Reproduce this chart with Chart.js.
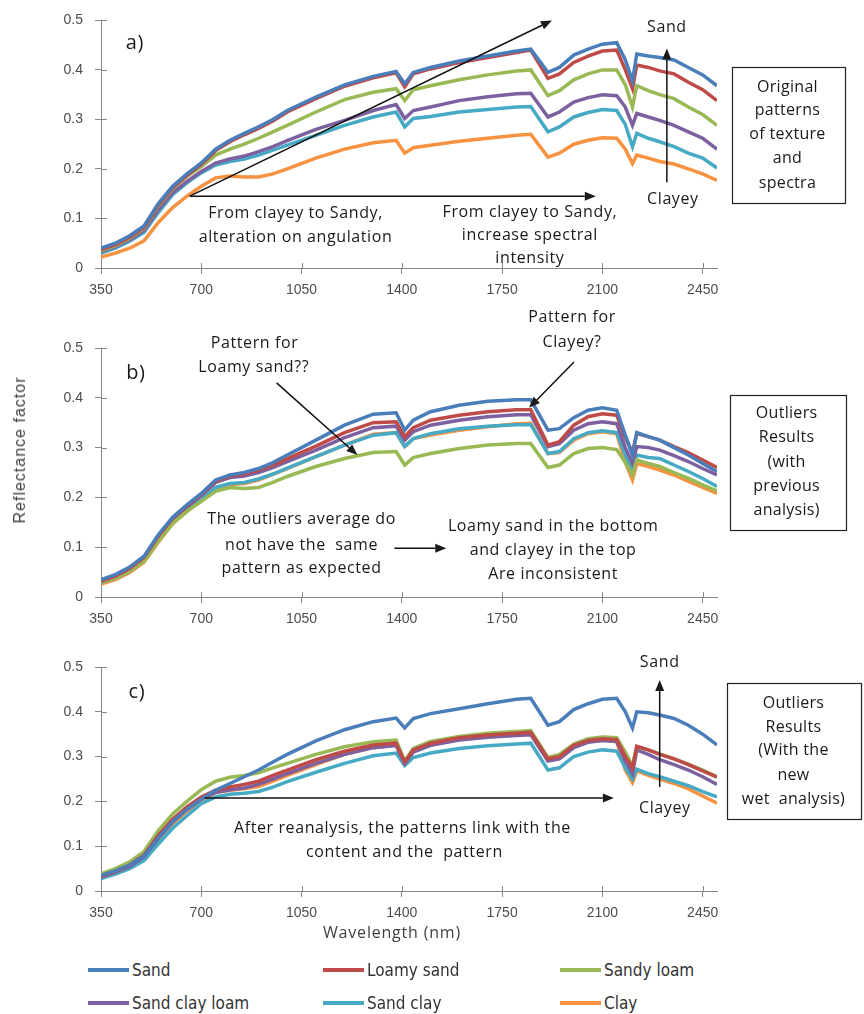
<!DOCTYPE html>
<html>
<head>
<meta charset="utf-8">
<script src="https://cdn.jsdelivr.net/npm/chart.js@4.4.1/dist/chart.umd.min.js"></script>
<style>
body { margin: 0; background: #fff; width: 864px; height: 1014px; position: relative; overflow: hidden; }
canvas { position: absolute; left: 0; }
#ylab { position: absolute; left: 20px; top: 450px; transform: translate(-50%, -50%) rotate(-90deg);
        font: 16px "Liberation Sans", Arial, sans-serif; letter-spacing: 1px; color: #404040; white-space: nowrap; }
#xlab { position: absolute; left: 392px; top: 932px; transform: translate(-50%, -50%);
        font: 16px "Open Sans", sans-serif; letter-spacing: 0.8px; color: #404040; white-space: nowrap; }
.leg { position: absolute; display: flex; align-items: center; transform: translateY(-50%);
       font: 17px "Liberation Sans Narrow", "DejaVu Sans Condensed", sans-serif; color: #333; white-space: nowrap; }
.leg i { display: inline-block; width: 41px; height: 4px; margin-right: 3px; }
</style>
</head>
<body>
<canvas id="ca" width="864" height="300" style="top:0"></canvas>
<canvas id="cb" width="864" height="330" style="top:300px"></canvas>
<canvas id="cc" width="864" height="300" style="top:630px"></canvas>
<div id="ylab">Reflectance factor</div>
<div id="xlab">Wavelength (nm)</div>
<div id="legend"></div>
<script>
// wavelengths (nm) sampled from the spectra
const wavelengths = [350, 400, 450, 500, 550, 600, 650, 700, 750, 800,
  850, 900, 950, 1000, 1100, 1200, 1300, 1380, 1410, 1440,
  1500, 1600, 1700, 1800, 1850, 1910, 1950, 2000, 2050, 2100,
  2150, 2180, 2205, 2220, 2260, 2300, 2350, 2400, 2450, 2500];
const xTicks = [350, 700, 1050, 1400, 1750, 2100, 2450];
const yTicks = [0, 0.1, 0.2, 0.3, 0.4, 0.5];
const seriesNames = ['Sand', 'Loamy sand', 'Sandy loam', 'Sand clay loam', 'Sand clay', 'Clay'];
const seriesColors = ['#4A7EBB', '#BE4B48', '#98B954', '#7D60A0', '#46AAC5', '#F69240'];

// a) original patterns
const sandA = [0.040,0.050,0.065,0.085,0.130,0.165,0.190,0.212,0.240,0.258, 0.272,0.285,0.300,0.318,0.345,0.370,0.387,0.397,0.372,0.395, 0.405,0.418,0.428,0.438,0.442,0.395,0.405,0.430,0.442,0.452, 0.455,0.420,0.378,0.432,0.428,0.425,0.420,0.405,0.390,0.368];
const loamySandA = [0.037,0.047,0.062,0.082,0.127,0.162,0.187,0.209,0.237,0.255, 0.269,0.282,0.297,0.315,0.342,0.367,0.384,0.394,0.366,0.392, 0.402,0.415,0.425,0.435,0.440,0.383,0.392,0.415,0.428,0.438, 0.440,0.400,0.362,0.410,0.405,0.398,0.392,0.375,0.360,0.338];
const sandyLoamA = [0.035,0.045,0.060,0.080,0.125,0.160,0.185,0.205,0.228,0.240, 0.250,0.262,0.275,0.288,0.315,0.340,0.355,0.362,0.338,0.360, 0.368,0.380,0.390,0.398,0.400,0.348,0.358,0.380,0.392,0.400, 0.400,0.370,0.325,0.368,0.358,0.350,0.342,0.325,0.310,0.288];
const sandClayLoamA = [0.033,0.043,0.057,0.076,0.118,0.152,0.175,0.195,0.212,0.220, 0.226,0.235,0.245,0.257,0.280,0.298,0.318,0.330,0.302,0.318, 0.325,0.338,0.346,0.352,0.353,0.305,0.315,0.335,0.344,0.350, 0.348,0.325,0.288,0.312,0.305,0.298,0.288,0.275,0.262,0.240];
const sandClayA = [0.030,0.040,0.054,0.072,0.112,0.148,0.172,0.192,0.208,0.215, 0.220,0.228,0.238,0.248,0.268,0.288,0.305,0.315,0.285,0.302, 0.306,0.315,0.320,0.325,0.326,0.275,0.285,0.305,0.314,0.320, 0.318,0.290,0.245,0.272,0.262,0.255,0.245,0.232,0.222,0.202];
const clayA = [0.022,0.030,0.040,0.055,0.092,0.122,0.145,0.165,0.182,0.186, 0.184,0.184,0.190,0.200,0.222,0.240,0.253,0.258,0.232,0.243, 0.248,0.256,0.262,0.268,0.270,0.224,0.232,0.250,0.258,0.263, 0.262,0.240,0.211,0.228,0.222,0.215,0.210,0.200,0.190,0.177];

// b) outliers, previous analysis
const sandB = [0.035,0.045,0.060,0.082,0.125,0.160,0.185,0.208,0.235,0.245, 0.250,0.258,0.270,0.285,0.315,0.345,0.367,0.370,0.335,0.355, 0.372,0.385,0.393,0.396,0.396,0.335,0.338,0.360,0.375,0.380, 0.375,0.325,0.285,0.330,0.322,0.315,0.300,0.285,0.268,0.252];
const loamySandB = [0.032,0.042,0.057,0.079,0.122,0.158,0.183,0.206,0.233,0.243, 0.247,0.255,0.265,0.278,0.303,0.330,0.350,0.352,0.322,0.340, 0.355,0.365,0.372,0.376,0.376,0.305,0.312,0.345,0.362,0.368, 0.365,0.320,0.290,0.328,0.322,0.315,0.302,0.290,0.275,0.260];
const sandyLoamB = [0.030,0.038,0.052,0.072,0.112,0.148,0.172,0.192,0.212,0.220, 0.218,0.220,0.230,0.242,0.262,0.278,0.290,0.292,0.265,0.280, 0.288,0.298,0.305,0.308,0.308,0.260,0.265,0.288,0.298,0.300, 0.296,0.270,0.245,0.275,0.268,0.262,0.250,0.238,0.225,0.213];
const sandClayLoamB = [0.031,0.041,0.055,0.077,0.120,0.156,0.181,0.204,0.230,0.240, 0.243,0.250,0.260,0.272,0.295,0.320,0.340,0.343,0.315,0.332, 0.345,0.355,0.362,0.366,0.366,0.302,0.308,0.335,0.348,0.352, 0.348,0.300,0.268,0.302,0.300,0.295,0.284,0.272,0.258,0.245];
const sandClayB = [0.029,0.038,0.052,0.073,0.114,0.150,0.175,0.196,0.220,0.228, 0.230,0.237,0.247,0.259,0.282,0.305,0.325,0.330,0.302,0.318, 0.328,0.338,0.343,0.346,0.346,0.288,0.292,0.318,0.330,0.334, 0.330,0.285,0.255,0.285,0.280,0.278,0.265,0.252,0.238,0.222];
const clayB = [0.026,0.035,0.049,0.070,0.110,0.147,0.172,0.193,0.218,0.226, 0.228,0.235,0.246,0.258,0.282,0.305,0.327,0.330,0.302,0.318, 0.325,0.335,0.342,0.348,0.349,0.288,0.290,0.315,0.328,0.332, 0.328,0.270,0.235,0.268,0.262,0.255,0.245,0.232,0.220,0.208];

// c) outliers, new wet analysis
const sandC = [0.035,0.045,0.058,0.078,0.118,0.155,0.182,0.205,0.225,0.240, 0.255,0.270,0.288,0.305,0.335,0.360,0.378,0.386,0.364,0.385, 0.396,0.407,0.418,0.428,0.430,0.370,0.378,0.405,0.418,0.428, 0.430,0.400,0.364,0.400,0.398,0.393,0.385,0.370,0.350,0.326];
const loamySandC = [0.033,0.044,0.058,0.080,0.124,0.160,0.188,0.210,0.225,0.232, 0.238,0.245,0.258,0.270,0.293,0.312,0.326,0.330,0.288,0.315, 0.330,0.342,0.348,0.352,0.354,0.295,0.300,0.325,0.336,0.340, 0.338,0.300,0.275,0.323,0.315,0.305,0.295,0.282,0.268,0.254];
const sandyLoamC = [0.038,0.050,0.065,0.088,0.135,0.172,0.200,0.226,0.245,0.254, 0.258,0.264,0.275,0.285,0.305,0.322,0.333,0.337,0.290,0.318, 0.334,0.345,0.352,0.356,0.358,0.298,0.305,0.328,0.340,0.344, 0.342,0.310,0.280,0.322,0.315,0.306,0.295,0.283,0.270,0.255];
const sandClayLoamC = [0.031,0.042,0.055,0.076,0.118,0.154,0.182,0.205,0.220,0.226, 0.230,0.238,0.250,0.262,0.285,0.305,0.320,0.325,0.285,0.310, 0.325,0.337,0.343,0.347,0.349,0.290,0.295,0.320,0.332,0.336, 0.334,0.290,0.262,0.315,0.305,0.293,0.282,0.270,0.255,0.238];
const sandClayC = [0.028,0.038,0.050,0.068,0.105,0.140,0.168,0.195,0.210,0.216, 0.218,0.222,0.232,0.244,0.265,0.285,0.302,0.308,0.280,0.298, 0.308,0.318,0.324,0.328,0.330,0.270,0.275,0.300,0.310,0.315, 0.312,0.275,0.250,0.272,0.262,0.255,0.245,0.235,0.222,0.210];
const clayC = [0.030,0.040,0.053,0.073,0.113,0.150,0.178,0.202,0.220,0.225, 0.228,0.233,0.245,0.258,0.282,0.305,0.320,0.326,0.288,0.312, 0.326,0.338,0.345,0.350,0.352,0.292,0.296,0.322,0.333,0.337, 0.333,0.270,0.242,0.268,0.258,0.250,0.240,0.228,0.212,0.196];

// annotations, placed in data units [wavelength, reflectance]
const notesA = {
  texts: [
    { t: 'a)', at: [468, 0.454], size: 20 },
    { t: 'From clayey to Sandy,', at: [1029, 0.111] },
    { t: 'alteration on angulation', at: [1029, 0.0625] },
    { t: 'From clayey to Sandy,', at: [1847, 0.113] },
    { t: 'increase spectral', at: [1847, 0.0665] },
    { t: 'intensity', at: [1847, 0.020] },
    { t: 'Sand', at: [2325, 0.486] },
    { t: 'Clayey', at: [2346, 0.139] }
  ],
  arrows: [
    { from: [660, 0.145], to: [1924, 0.5] },
    { from: [660, 0.145], to: [2077, 0.145] },
    { from: [2325, 0.173], to: [2325, 0.4435] }
  ],
  box: { x: [2551, 2944], y: [0.405, 0.131], cx: 2746,
         lines: ['Original', 'patterns', 'of texture', 'and', 'spectra'],
         ys: [0.365, 0.3185, 0.270, 0.222, 0.171] }
};
const notesB = {
  texts: [
    { t: 'b)', at: [472, 0.45], size: 20 },
    { t: 'Pattern for', at: [886, 0.510] },
    { t: 'Loamy sand??', at: [883, 0.460] },
    { t: 'The outliers average do', at: [1050, 0.155] },
    { t: 'not have the  same', at: [1050, 0.104] },
    { t: 'pattern as expected', at: [1050, 0.058] },
    { t: 'Loamy sand in the bottom', at: [1928, 0.141] },
    { t: 'and clayey in the top', at: [1928, 0.094] },
    { t: 'Are inconsistent', at: [1928, 0.046] },
    { t: 'Pattern for', at: [1994, 0.562] },
    { t: 'Clayey?', at: [1994, 0.512] }
  ],
  arrows: [
    { from: [963, 0.430], to: [1245, 0.285] },
    { from: [1374, 0.098], to: [1555, 0.098] },
    { from: [2001, 0.472], to: [1844, 0.380] }
  ],
  box: { x: [2544, 2948], y: [0.4056, 0.1345], cx: 2743,
         lines: ['Outliers', 'Results', '(with', 'previous', 'analysis)'],
         ys: [0.3695, 0.3213, 0.2711, 0.2229, 0.1747] }
};
const notesC = {
  texts: [
    { t: 'c)', at: [475, 0.444], size: 20 },
    { t: 'After reanalysis, the patterns link with the', at: [1402, 0.1406] },
    { t: 'content and the  pattern', at: [1409, 0.087] },
    { t: 'Sand', at: [2300, 0.511] },
    { t: 'Clayey', at: [2318, 0.185] }
  ],
  arrows: [
    { from: [712, 0.2076], to: [2140, 0.2076] },
    { from: [2300, 0.232], to: [2300, 0.471] }
  ],
  box: { x: [2534, 3000], y: [0.464, 0.161], cx: 2767,
         lines: ['Outliers', 'Results', '(With the', 'new', 'wet  analysis)'],
         ys: [0.4196, 0.366, 0.3147, 0.259, 0.205] }
};

const axisColor = '#868686';
const tickFont = { family: '"Liberation Sans", Arial, sans-serif', size: 14 };
const noteFont = '"Open Sans", sans-serif';

const crossTicks = {
  id: 'crossTicks',
  afterDraw(chart) {
    const { ctx, chartArea, scales: { x, y } } = chart;
    ctx.save();
    ctx.strokeStyle = axisColor;
    ctx.lineWidth = 1;
    ctx.beginPath();
    x.ticks.forEach(t => {
      const px = Math.round(x.getPixelForValue(t.value)) + 0.5;
      ctx.moveTo(px, chartArea.bottom - 5);
      ctx.lineTo(px, chartArea.bottom);
    });
    y.ticks.forEach(t => {
      const py = Math.round(y.getPixelForValue(t.value)) + 0.5;
      ctx.moveTo(chartArea.left, py);
      ctx.lineTo(chartArea.left + 6, py);
    });
    ctx.stroke();
    ctx.restore();
  }
};

function drawArrow(ctx, x1, y1, x2, y2) {
  const a = Math.atan2(y2 - y1, x2 - x1);
  const hl = 11, hw = 4.5;
  const bx = x2 - hl * Math.cos(a), by = y2 - hl * Math.sin(a);
  ctx.beginPath();
  ctx.moveTo(x1, y1);
  ctx.lineTo(bx, by);
  ctx.stroke();
  ctx.beginPath();
  ctx.moveTo(x2, y2);
  ctx.lineTo(bx + hw * Math.sin(a), by - hw * Math.cos(a));
  ctx.lineTo(bx - hw * Math.sin(a), by + hw * Math.cos(a));
  ctx.closePath();
  ctx.fill();
}

function notesPlugin(notes) {
  return {
    id: 'notes',
    afterDraw(chart) {
      const { ctx, scales: { x, y } } = chart;
      const px = v => x.getPixelForValue(v), py = v => y.getPixelForValue(v);
      ctx.save();
      ctx.fillStyle = '#1a1a1a';
      ctx.strokeStyle = '#111';
      ctx.lineWidth = 1.5;
      ctx.textAlign = 'center';
      ctx.textBaseline = 'middle';
      ctx.letterSpacing = '0.6px';
      notes.texts.forEach(n => {
        ctx.font = (n.size || 16) + 'px ' + noteFont;
        ctx.fillText(n.t, px(n.at[0]), py(n.at[1]));
      });
      notes.arrows.forEach(a => {
        drawArrow(ctx, px(a.from[0]), py(a.from[1]), px(a.to[0]), py(a.to[1]));
      });
      const b = notes.box;
      ctx.lineWidth = 1.2;
      ctx.strokeStyle = '#222';
      ctx.strokeRect(Math.round(px(b.x[0])) + 0.5, Math.round(py(b.y[0])) + 0.5,
        Math.round(px(b.x[1]) - px(b.x[0])), Math.round(py(b.y[1]) - py(b.y[0])));
      ctx.font = '16px ' + noteFont;
      ctx.letterSpacing = '0.3px';
      b.lines.forEach((t, i) => ctx.fillText(t, px(b.cx), py(b.ys[i])));
      ctx.restore();
    }
  };
}

function makeChart(id, series, padTop, xAxisH, notes) {
  const datasets = series.map((vals, i) => ({
    label: seriesNames[i],
    data: wavelengths.map((w, j) => ({ x: w, y: vals[j] })),
    borderColor: seriesColors[i],
    backgroundColor: seriesColors[i],
    borderWidth: 3.5,
    pointRadius: 0,
    tension: 0
  }));
  return new Chart(document.getElementById(id), {
    type: 'line',
    data: { datasets: datasets },
    options: {
      responsive: false,
      animation: false,
      devicePixelRatio: 1,
      layout: { padding: { top: padTop, right: 147, left: 0, bottom: 0 } },
      plugins: { legend: { display: false }, tooltip: { enabled: false } },
      scales: {
        x: {
          type: 'linear', min: 350, max: 2500,
          afterBuildTicks: s => { s.ticks = xTicks.map(v => ({ value: v })); },
          afterFit: s => { s.height = xAxisH; },
          grid: { drawOnChartArea: false, color: axisColor, tickLength: 6 },
          border: { color: axisColor },
          ticks: { font: tickFont, color: '#4d4d4d', padding: 8, maxRotation: 0, autoSkip: false,
                   callback: v => String(v) }
        },
        y: {
          min: 0, max: 0.5,
          afterBuildTicks: s => { s.ticks = yTicks.map(v => ({ value: v })); },
          afterFit: s => { s.width = 101; },
          grid: { drawOnChartArea: false, color: axisColor, tickLength: 6 },
          border: { color: axisColor },
          ticks: { font: tickFont, color: '#4d4d4d', padding: 12,
                   callback: v => v === 0 ? '0' : v.toFixed(1) }
        }
      }
    },
    plugins: [crossTicks, notesPlugin(notes)]
  });
}

makeChart('ca', [sandA, loamySandA, sandyLoamA, sandClayLoamA, sandClayA, clayA], 20, 32, notesA);
makeChart('cb', [sandB, loamySandB, sandyLoamB, sandClayLoamB, sandClayB, clayB], 48, 33, notesB);
makeChart('cc', [sandC, loamySandC, sandyLoamC, sandClayLoamC, sandClayC, clayC], 37, 39, notesC);

// legend under the charts, three per row
const legendCols = [88, 323, 560];
const legendRows = [970, 1003];
const legendEl = document.getElementById('legend');
seriesNames.forEach((name, i) => {
  const item = document.createElement('div');
  item.className = 'leg';
  item.style.left = legendCols[i % 3] + 'px';
  item.style.top = legendRows[Math.floor(i / 3)] + 'px';
  item.innerHTML = `<i style="background:${seriesColors[i]}"></i>${name}`;
  legendEl.appendChild(item);
});
</script>
</body>
</html>
